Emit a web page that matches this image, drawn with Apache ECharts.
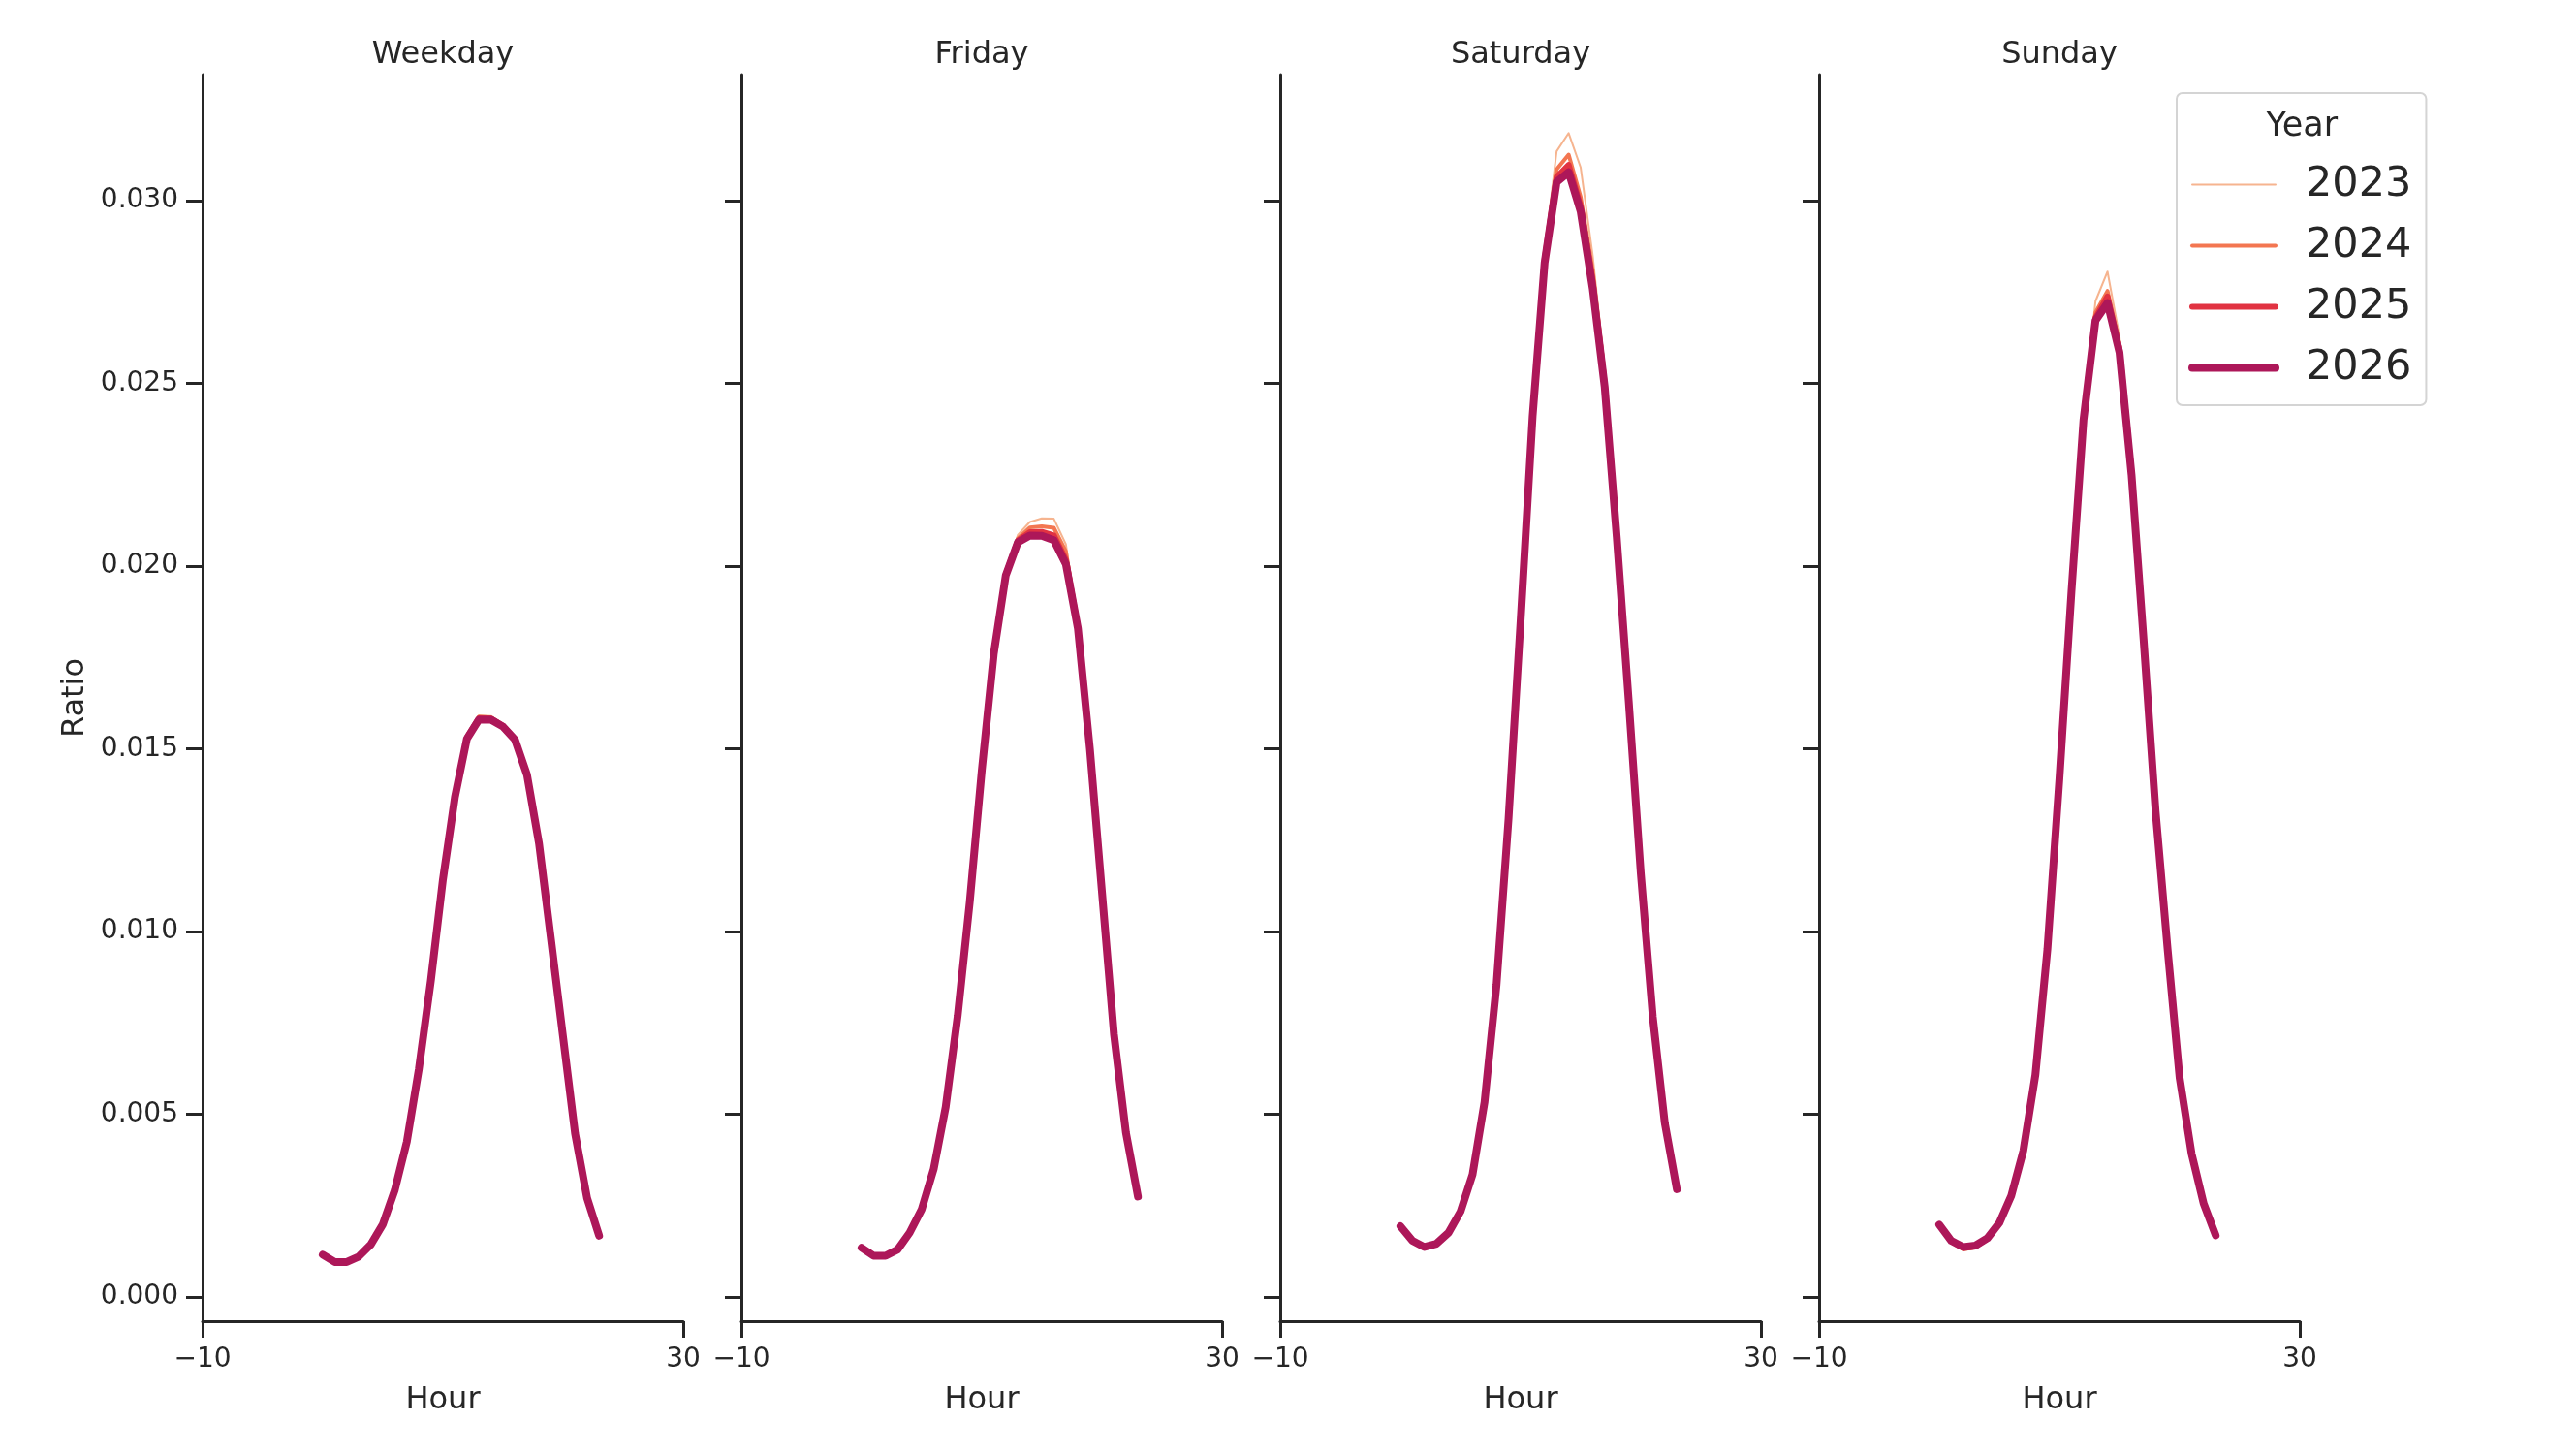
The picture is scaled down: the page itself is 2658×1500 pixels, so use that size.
<!DOCTYPE html>
<html>
<head>
<meta charset="utf-8">
<title>Hourly ratio by day type</title>
<script src="https://cdn.jsdelivr.net/npm/echarts@6/dist/echarts.min.js"></script>
<style>
    html, body { margin: 0; padding: 0; background: #fff; }
    #main { width: 2658px; height: 1500px; }
</style>
</head>
<body>
<div id="main"></div>
<script>
// ---- data ----
var hours = [0, 1, 2, 3, 4, 5, 6, 7, 8, 9, 10, 11, 12, 13, 14, 15, 16, 17, 18, 19, 20, 21, 22, 23];
var panels = ['Weekday', 'Friday', 'Saturday', 'Sunday'];
var years = ['2023', '2024', '2025', '2026'];
var yTicks = [0, 0.005, 0.01, 0.015, 0.02, 0.025, 0.03];
var xTicks = [-10, 30];

var weekday2023 = [0.00119, 0.00098, 0.00095, 0.00109, 0.00141, 0.00196, 0.00290, 0.00422, 0.00621, 0.00864, 0.01145, 0.01374, 0.01537, 0.01592, 0.01590, 0.01568, 0.01529, 0.01432, 0.01240, 0.00974, 0.00709, 0.00446, 0.00273, 0.00171];
var weekday2024 = [0.00118, 0.00097, 0.00095, 0.00110, 0.00142, 0.00197, 0.00291, 0.00423, 0.00622, 0.00865, 0.01144, 0.01372, 0.01534, 0.01588, 0.01586, 0.01565, 0.01527, 0.01431, 0.01240, 0.00975, 0.00710, 0.00446, 0.00272, 0.00170];
var weekday2025 = [0.00117, 0.00097, 0.00096, 0.00111, 0.00143, 0.00198, 0.00292, 0.00424, 0.00623, 0.00866, 0.01143, 0.01370, 0.01531, 0.01584, 0.01583, 0.01563, 0.01526, 0.01430, 0.01241, 0.00976, 0.00711, 0.00447, 0.00272, 0.00169];
var weekday2026 = [0.00116, 0.00096, 0.00096, 0.00111, 0.00144, 0.00199, 0.00293, 0.00425, 0.00624, 0.00866, 0.01142, 0.01368, 0.01528, 0.01580, 0.01580, 0.01561, 0.01525, 0.01429, 0.01241, 0.00977, 0.00712, 0.00447, 0.00271, 0.00168];

var friday2023 = [0.00137, 0.00114, 0.00112, 0.00129, 0.00175, 0.00239, 0.00349, 0.00519, 0.00769, 0.01081, 0.01443, 0.01766, 0.01982, 0.02085, 0.02121, 0.02131, 0.02130, 0.02060, 0.01845, 0.01505, 0.01112, 0.00721, 0.00451, 0.00276];
var friday2024 = [0.00136, 0.00114, 0.00113, 0.00130, 0.00175, 0.00240, 0.00350, 0.00520, 0.00770, 0.01080, 0.01442, 0.01764, 0.01980, 0.02075, 0.02106, 0.02109, 0.02105, 0.02040, 0.01840, 0.01503, 0.01111, 0.00720, 0.00450, 0.00275];
var friday2025 = [0.00135, 0.00113, 0.00113, 0.00130, 0.00176, 0.00240, 0.00350, 0.00520, 0.00770, 0.01080, 0.01441, 0.01762, 0.01978, 0.02070, 0.02093, 0.02094, 0.02084, 0.02018, 0.01835, 0.01501, 0.01110, 0.00720, 0.00450, 0.00275];
var friday2026 = [0.00135, 0.00113, 0.00113, 0.00130, 0.00176, 0.00240, 0.00350, 0.00520, 0.00770, 0.01080, 0.01440, 0.01760, 0.01975, 0.02065, 0.02084, 0.02083, 0.02071, 0.02006, 0.01830, 0.01500, 0.01110, 0.00720, 0.00450, 0.00275];

var saturday2023 = [0.00196, 0.00152, 0.00132, 0.00142, 0.00174, 0.00233, 0.00335, 0.00535, 0.00857, 0.01315, 0.01860, 0.02425, 0.02860, 0.03135, 0.03185, 0.03091, 0.02850, 0.02540, 0.02110, 0.01645, 0.01168, 0.00770, 0.00478, 0.00296];
var saturday2024 = [0.00195, 0.00153, 0.00134, 0.00144, 0.00175, 0.00234, 0.00335, 0.00534, 0.00856, 0.01313, 0.01856, 0.02418, 0.02850, 0.03086, 0.03126, 0.03010, 0.02810, 0.02520, 0.02095, 0.01638, 0.01164, 0.00769, 0.00477, 0.00295];
var saturday2025 = [0.00194, 0.00154, 0.00136, 0.00145, 0.00176, 0.00234, 0.00335, 0.00534, 0.00855, 0.01311, 0.01852, 0.02413, 0.02840, 0.03065, 0.03098, 0.02985, 0.02780, 0.02500, 0.02085, 0.01633, 0.01161, 0.00768, 0.00476, 0.00295];
var saturday2026 = [0.00194, 0.00154, 0.00137, 0.00146, 0.00176, 0.00234, 0.00335, 0.00534, 0.00855, 0.01310, 0.01850, 0.02410, 0.02830, 0.03051, 0.03078, 0.02970, 0.02760, 0.02490, 0.02080, 0.01630, 0.01160, 0.00767, 0.00476, 0.00295];

var sunday2023 = [0.00196, 0.00149, 0.00128, 0.00133, 0.00156, 0.00200, 0.00277, 0.00401, 0.00609, 0.00955, 0.01428, 0.01945, 0.02420, 0.02725, 0.02806, 0.02628, 0.02280, 0.01815, 0.01336, 0.00955, 0.00602, 0.00393, 0.00257, 0.00170];
var sunday2024 = [0.00197, 0.00151, 0.00131, 0.00136, 0.00158, 0.00201, 0.00277, 0.00401, 0.00608, 0.00953, 0.01424, 0.01938, 0.02410, 0.02694, 0.02753, 0.02605, 0.02265, 0.01808, 0.01333, 0.00953, 0.00601, 0.00392, 0.00256, 0.00169];
var sunday2025 = [0.00198, 0.00153, 0.00135, 0.00139, 0.00160, 0.00202, 0.00278, 0.00401, 0.00608, 0.00952, 0.01422, 0.01934, 0.02405, 0.02680, 0.02738, 0.02595, 0.02258, 0.01804, 0.01331, 0.00952, 0.00600, 0.00392, 0.00256, 0.00169];
var sunday2026 = [0.00198, 0.00154, 0.00137, 0.00141, 0.00161, 0.00203, 0.00278, 0.00401, 0.00608, 0.00952, 0.01420, 0.01930, 0.02400, 0.02672, 0.02720, 0.02584, 0.02250, 0.01800, 0.01330, 0.00952, 0.00600, 0.00392, 0.00256, 0.00169];

var ratios = {
    Weekday: [weekday2023, weekday2024, weekday2025, weekday2026],
    Friday: [friday2023, friday2024, friday2025, friday2026],
    Saturday: [saturday2023, saturday2024, saturday2025, saturday2026],
    Sunday: [sunday2023, sunday2024, sunday2025, sunday2026]
};

// ---- styling ----
var colors = ['#f6b48f', '#f37651', '#e13342', '#ad1759'];
var widths = [2, 4, 6, 8];
var ink = '#262626';
var font = 'DejaVu Sans';
var gridLeft0 = 209, gridStep = 556, gridWidth = 496, gridTop = 77, gridHeight = 1286;

var grids = [], xAxes = [], yAxes = [], titles = [], series = [];

panels.forEach(function (p, i) {
    var left = gridLeft0 + gridStep * i;
    grids.push({left: left, top: gridTop, width: gridWidth, height: gridHeight});

    titles.push({
        text: p,
        left: left + gridWidth / 2,
        top: 41,
        textAlign: 'center',
        padding: 0,
        textStyle: {fontSize: 32, fontWeight: 'normal', color: ink, fontFamily: font}
    });

    xAxes.push({
        type: 'value',
        gridIndex: i,
        min: -10,
        max: 30,
        name: 'Hour',
        nameLocation: 'middle',
        nameGap: 66,
        nameTextStyle: {fontSize: 32, color: ink, fontFamily: font},
        axisLine: {show: true, onZero: false, lineStyle: {color: ink, width: 3}},
        axisTick: {show: true, customValues: xTicks, length: 17, lineStyle: {color: ink, width: 3}},
        axisLabel: {
            customValues: xTicks,
            margin: 26,
            fontSize: 28,
            color: ink,
            fontFamily: font,
            formatter: function (v) { return v < 0 ? '\u2212' + Math.abs(v) : String(v); }
        },
        splitLine: {show: false}
    });

    yAxes.push({
        type: 'value',
        gridIndex: i,
        min: -0.00066,
        max: 0.03345,
        name: i === 0 ? 'Ratio' : '',
        nameLocation: 'middle',
        nameRotate: 90,
        nameGap: 115,
        nameTextStyle: {fontSize: 32, color: ink, fontFamily: font},
        axisLine: {show: true, onZero: false, lineStyle: {color: ink, width: 3}},
        axisTick: {show: true, customValues: yTicks, length: 17, lineStyle: {color: ink, width: 3}},
        axisLabel: {
            show: i === 0,
            customValues: yTicks,
            margin: 25,
            fontSize: 28,
            color: ink,
            fontFamily: font,
            formatter: function (v) { return v.toFixed(3); }
        },
        splitLine: {show: false}
    });

    years.forEach(function (y, j) {
        var vals = ratios[p][j];
        series.push({
            type: 'line',
            name: y,
            xAxisIndex: i,
            yAxisIndex: i,
            data: hours.map(function (h, k) { return [h, vals[k]]; }),
            symbol: 'none',
            showSymbol: false,
            silent: true,
            z: 2 + j,
            itemStyle: {color: colors[j]},
            lineStyle: {color: colors[j], width: widths[j], cap: 'round', join: 'round'}
        });
    });
});

// legend title
titles.push({
    text: 'Year',
    left: 2375,
    top: 113,
    textAlign: 'center',
    padding: 0,
    textStyle: {fontSize: 35, fontWeight: 'normal', color: ink, fontFamily: font}
});

var legendData = years.map(function (y, j) {
    return {
        name: y,
        itemStyle: {opacity: 0},
        lineStyle: {color: colors[j], width: widths[j], cap: 'round'}
    };
});

var chart = echarts.init(document.getElementById('main'), null, {renderer: 'canvas'});
chart.setOption({
    animation: false,
    backgroundColor: '#fff',
    textStyle: {fontFamily: font},
    title: titles,
    grid: grids,
    xAxis: xAxes,
    yAxis: yAxes,
    legend: {
        orient: 'vertical',
        left: 2246,
        top: 96,
        data: legendData,
        itemWidth: 86,
        itemHeight: 20,
        itemGap: 20,
        padding: [73, 15, 17, 12],
        borderColor: '#d4d4d4',
        borderWidth: 2,
        borderRadius: 6,
        backgroundColor: '#fff',
        selectedMode: false,
        itemStyle: {opacity: 0},
        textStyle: {fontSize: 43, lineHeight: 43, color: ink, fontFamily: font, padding: [0, 0, 0, 26]}
    },
    series: series
});
</script>
</body>
</html>
